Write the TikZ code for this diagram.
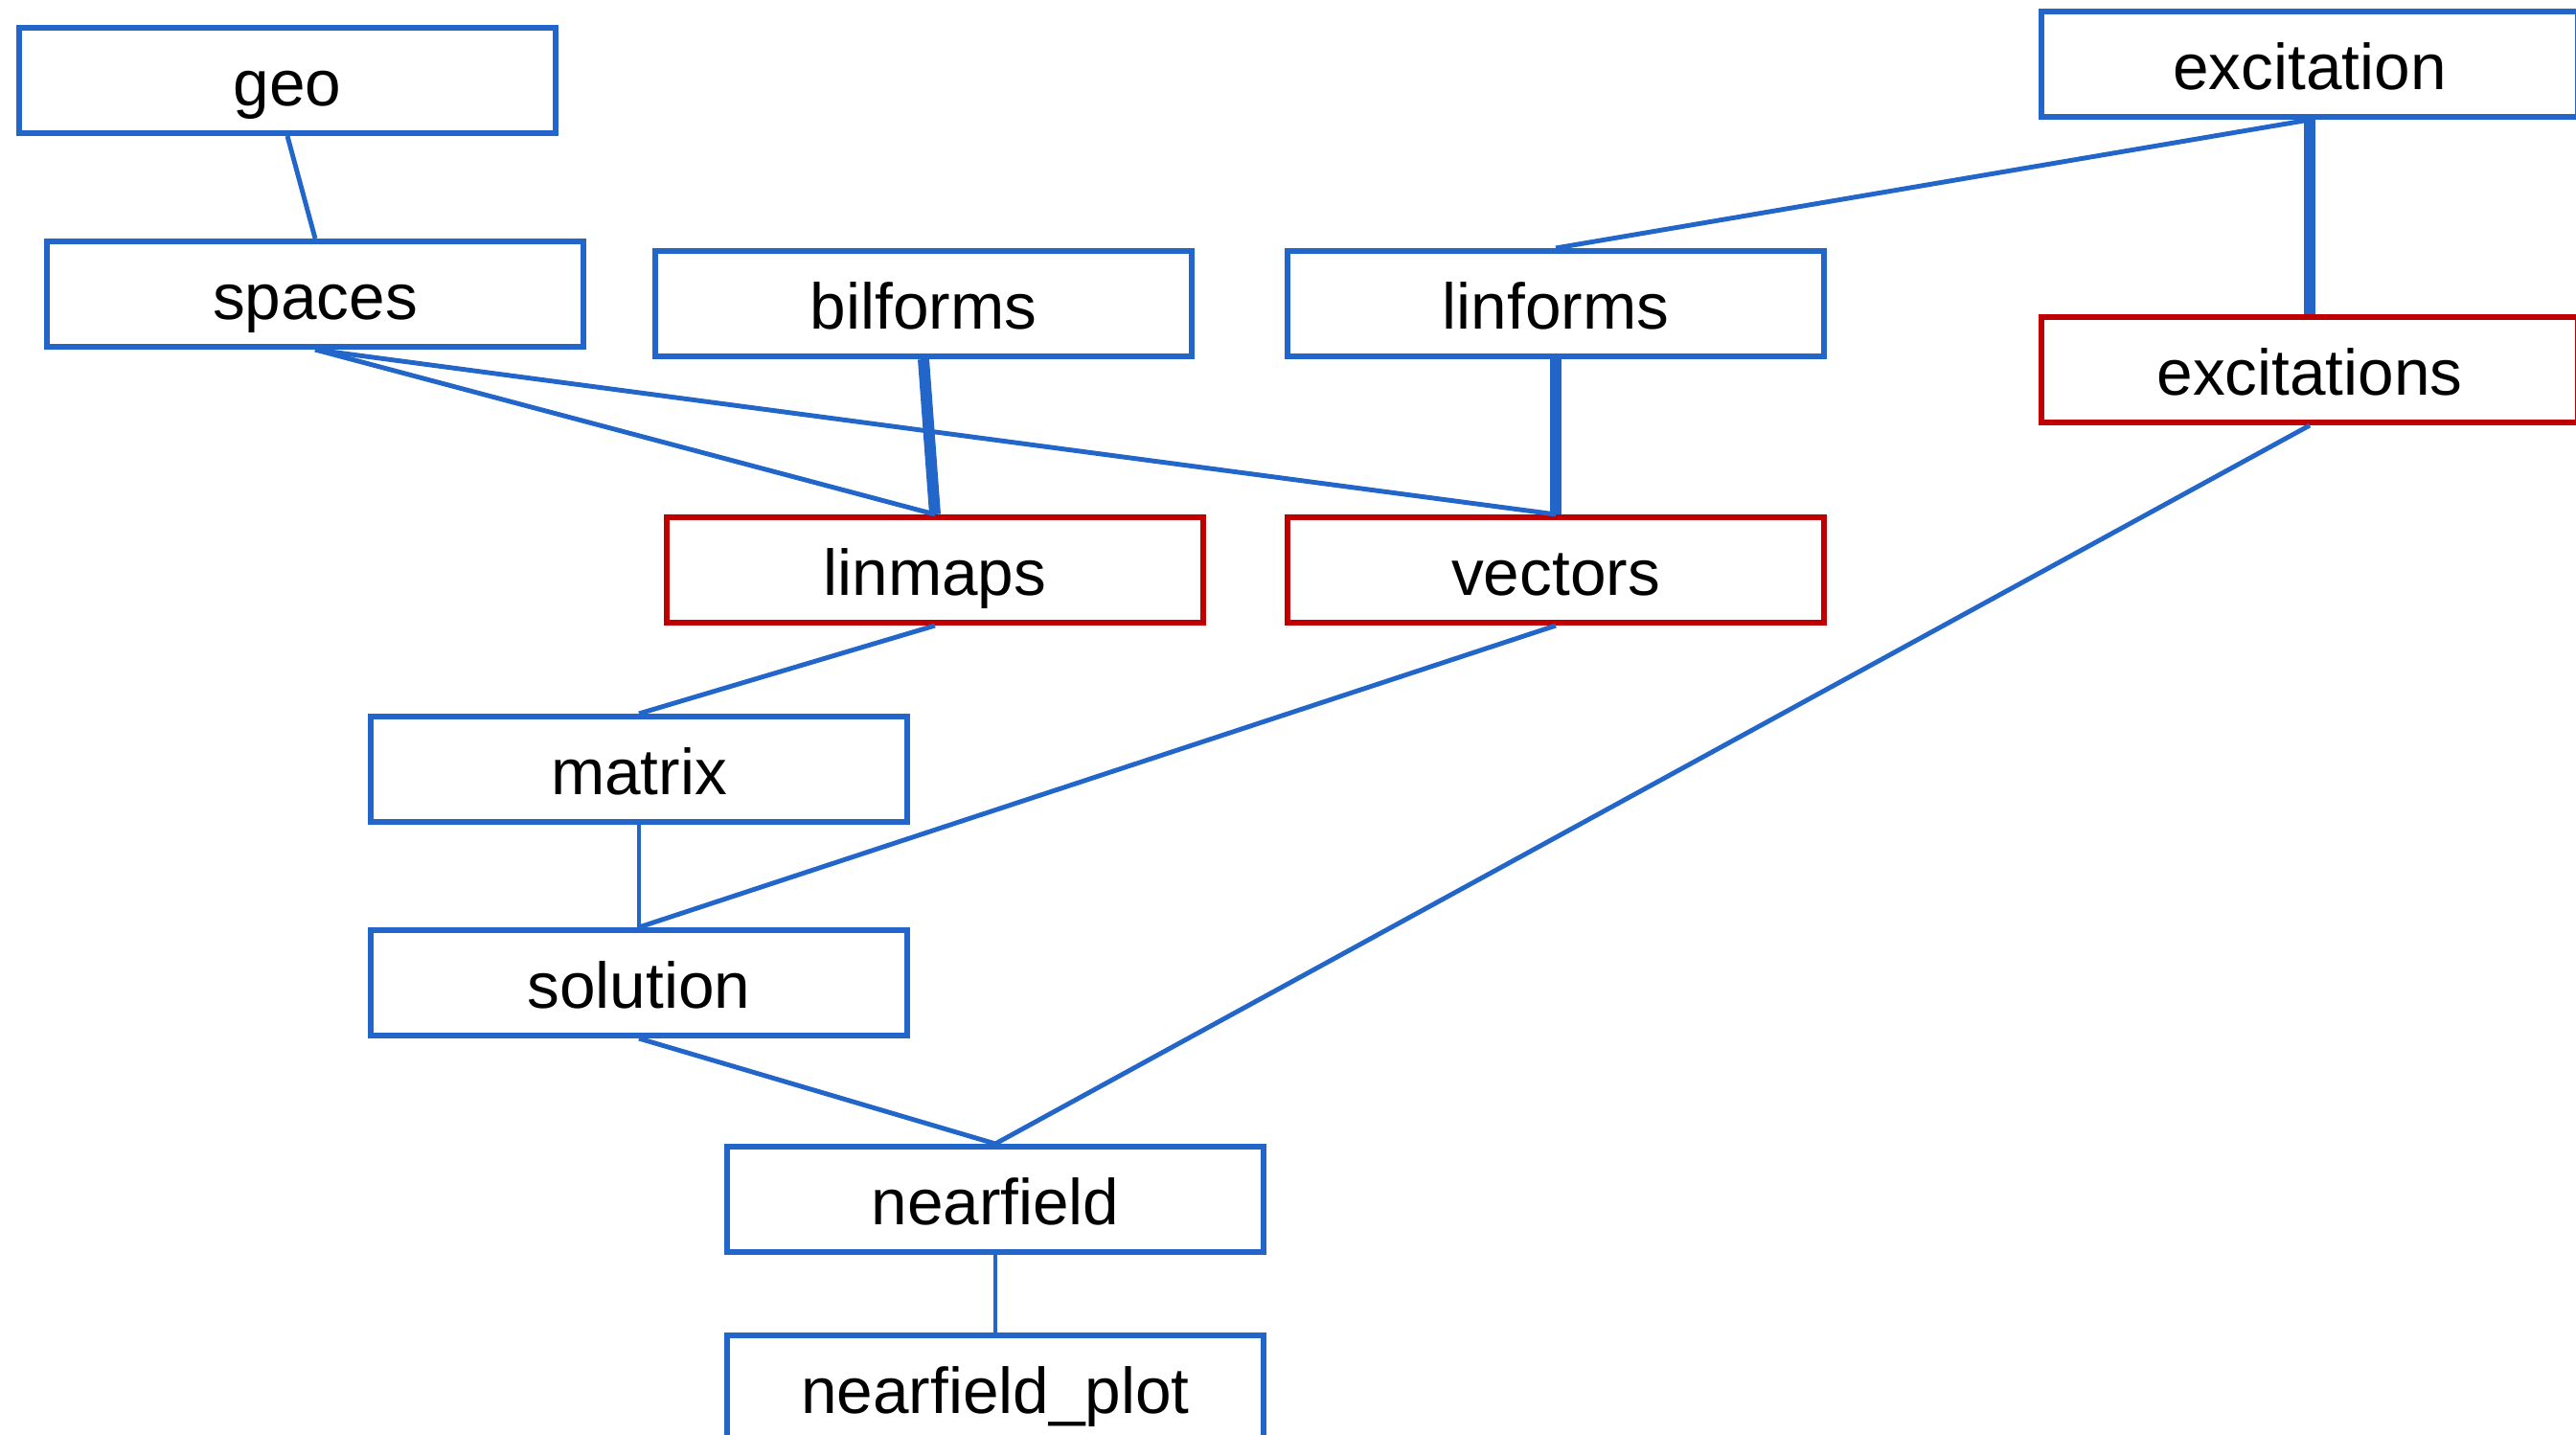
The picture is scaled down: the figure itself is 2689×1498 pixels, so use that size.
\documentclass[tikz,border=0pt]{standalone}
\usepackage{fontspec}
\setmainfont{Liberation Sans}
\definecolor{eblue}{RGB}{33,102,200}
\definecolor{ered}{RGB}{192,0,0}
\begin{document}
\begin{tikzpicture}[x=0.01cm,y=-0.01cm,
  modbox/.style={draw=eblue,line width=1.7pt,fill=white,minimum width=5.59cm,minimum height=1.10cm,inner sep=0pt,text height=15pt,text depth=0pt,font=\fontsize{19.2pt}{22pt}\selectfont},
  redbox/.style={modbox,draw=ered},
  thin/.style={draw=eblue,line width=1.4pt},
  thick/.style={draw=eblue,line width=3.4pt}]
\useasboundingbox (0,0) rectangle (2689,1498);
\node[modbox] (geo) at (300,84) {geo};
\node[modbox] (spaces) at (329,307) {spaces};
\node[modbox] (bilforms) at (964,317) {bilforms};
\node[modbox] (linforms) at (1624,317) {linforms};
\node[modbox] (excitation) at (2411,67) {excitation};
\node[redbox] (excitations) at (2411,386) {excitations};
\node[redbox] (linmaps) at (976,595) {linmaps};
\node[redbox] (vectors) at (1624,595) {vectors};
\node[modbox] (matrix) at (667,803) {matrix};
\node[modbox] (solution) at (667,1026) {solution};
\node[modbox] (nearfield) at (1039,1252) {nearfield};
\node[modbox] (nearfieldplot) at (1039,1449) {nearfield\_plot};
\draw[thin] (geo.south) -- (spaces.north);
\draw[thin] (spaces.south) -- (linmaps.north);
\draw[thin] (spaces.south) -- (vectors.north);
\draw[thick] (bilforms.south) -- (linmaps.north);
\draw[thick] (linforms.south) -- (vectors.north);
\draw[thin] (excitation.south) -- (linforms.north);
\draw[thick] (excitation.south) -- (excitations.north);
\draw[thin] (excitations.south) -- (nearfield.north);
\draw[thin] (linmaps.south) -- (matrix.north);
\draw[thin] (vectors.south) -- (solution.north);
\draw[thin] (matrix.south) -- (solution.north);
\draw[thin] (solution.south) -- (nearfield.north);
\draw[thin] (nearfield.south) -- (nearfieldplot.north);
\end{tikzpicture}
\end{document}
